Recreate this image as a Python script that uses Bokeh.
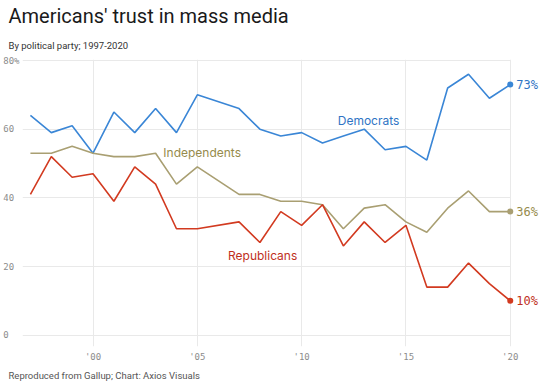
from bokeh.plotting import figure
from bokeh.models import Title, Label, FixedTicker, Range1d, BoxAnnotation
from bokeh.embed import file_html
from bokeh.resources import INLINE

years = [1997, 1998, 1999, 2000, 2001, 2002, 2003, 2004, 2005, 2007, 2008, 2009,
         2010, 2011, 2012, 2013, 2014, 2015, 2016, 2017, 2018, 2019, 2020]
democrats = [64, 59, 61, 53, 65, 59, 66, 59, 70, 66, 60, 58, 59, 56, 58, 60, 54, 55, 51, 72, 76, 69, 73]
independents = [53, 53, 55, 53, 52, 52, 53, 44, 49, 41, 41, 39, 39, 38, 31, 37, 38, 33, 30, 37, 42, 36, 36]
republicans = [41, 52, 46, 47, 39, 49, 44, 31, 31, 33, 27, 36, 32, 38, 26, 33, 27, 32, 14, 14, 21, 15, 10]

x_ticks = [2000, 2005, 2010, 2015, 2020]
x_tick_labels = ["'00", "'05", "'10", "'15", "'20"]
y_ticks = [0, 20, 40, 60, 80]
y_tick_labels = ["0\u00a0\u00a0", "20\u00a0", "40\u00a0", "60\u00a0", "80%"]

series = [
    ("Democrats", democrats, "#3a86d6", "#2f74c4", 2011.73, 62.6),
    ("Independents", independents, "#a99f72", "#968b4c", 2003.37, 53.2),
    ("Republicans", republicans, "#d23a20", "#c0301c", 2006.47, 23.2),
]

X_START, X_END, X_LAST = 1996.62, 2021.45, 2020

p = figure(width=542, height=383, x_range=Range1d(X_START, X_END),
           y_range=Range1d(-3.3, 80.3), output_backend="svg",
           toolbar_location=None, min_border_left=0, min_border_right=2,
           min_border_top=0, min_border_bottom=0, outline_line_color=None,
           background_fill_color="white", border_fill_color="white")
p.title = None

# axes
p.xaxis.ticker = FixedTicker(ticks=x_ticks)
p.xaxis.major_label_overrides = dict(zip(x_ticks, x_tick_labels))
p.yaxis.ticker = FixedTicker(ticks=y_ticks)
p.yaxis.major_label_overrides = dict(zip(y_ticks, y_tick_labels))
for ax in (p.xaxis[0], p.yaxis[0]):
    ax.axis_line_color = None
    ax.major_tick_line_color = None
    ax.minor_tick_line_color = None
    ax.major_tick_out = 0
    ax.major_tick_in = 0
    ax.major_label_text_font = "DejaVu Sans Mono"
    ax.major_label_text_font_size = "9px"
    ax.major_label_text_color = "#8c8c8c"
p.xaxis.major_label_standoff = 5
p.yaxis.major_label_standoff = 3

p.xgrid.ticker = FixedTicker(ticks=x_ticks)
p.ygrid.ticker = FixedTicker(ticks=y_ticks)
p.grid.grid_line_color = "#e9e9e9"
p.grid.grid_line_width = 1
try:
    p.ygrid[0].cross_bounds = (X_START, X_LAST)
except Exception:
    p.add_layout(BoxAnnotation(left=X_LAST + 0.03, fill_color="white", fill_alpha=1,
                               line_color=None, level="underlay"))

for name, vals, col, lcol, lx, ly in series:
    p.line(years, vals, line_color=col, line_width=1.6)
    p.scatter([years[-1]], [vals[-1]], size=6, fill_color=col, line_color=None)
    p.add_layout(Label(x=years[-1], y=vals[-1], x_offset=6, text=f"{vals[-1]}%",
                       text_baseline="middle", text_font="DejaVu Sans Mono",
                       text_font_size="12px", text_color=lcol))
    p.add_layout(Label(x=lx, y=ly, text=name, text_baseline="alphabetic",
                       text_font="Inter", text_font_size="12px",
                       text_font_style="normal", text_color=lcol))

sub = Title(text="By political party; 1997-2020", align="left", offset=-14,
            text_font="Roboto", text_font_size="9.5px", text_font_style="normal",
            text_color="#333333", standoff=18)
main = Title(text="Americans' trust in mass media", align="left", offset=-14,
             text_font="Roboto", text_font_size="20px", text_font_style="normal",
             text_color="#1a1a1a", standoff=2)
p.add_layout(sub, "above")
p.add_layout(main, "above")

foot = Title(text="Reproduced from Gallup; Chart: Axios Visuals", align="left",
             offset=-14, text_font="Roboto", text_font_size="9.5px",
             text_font_style="normal", text_color="#555555", standoff=6)
p.add_layout(foot, "below")

open("out.html", "w").write(file_html(p, INLINE))
